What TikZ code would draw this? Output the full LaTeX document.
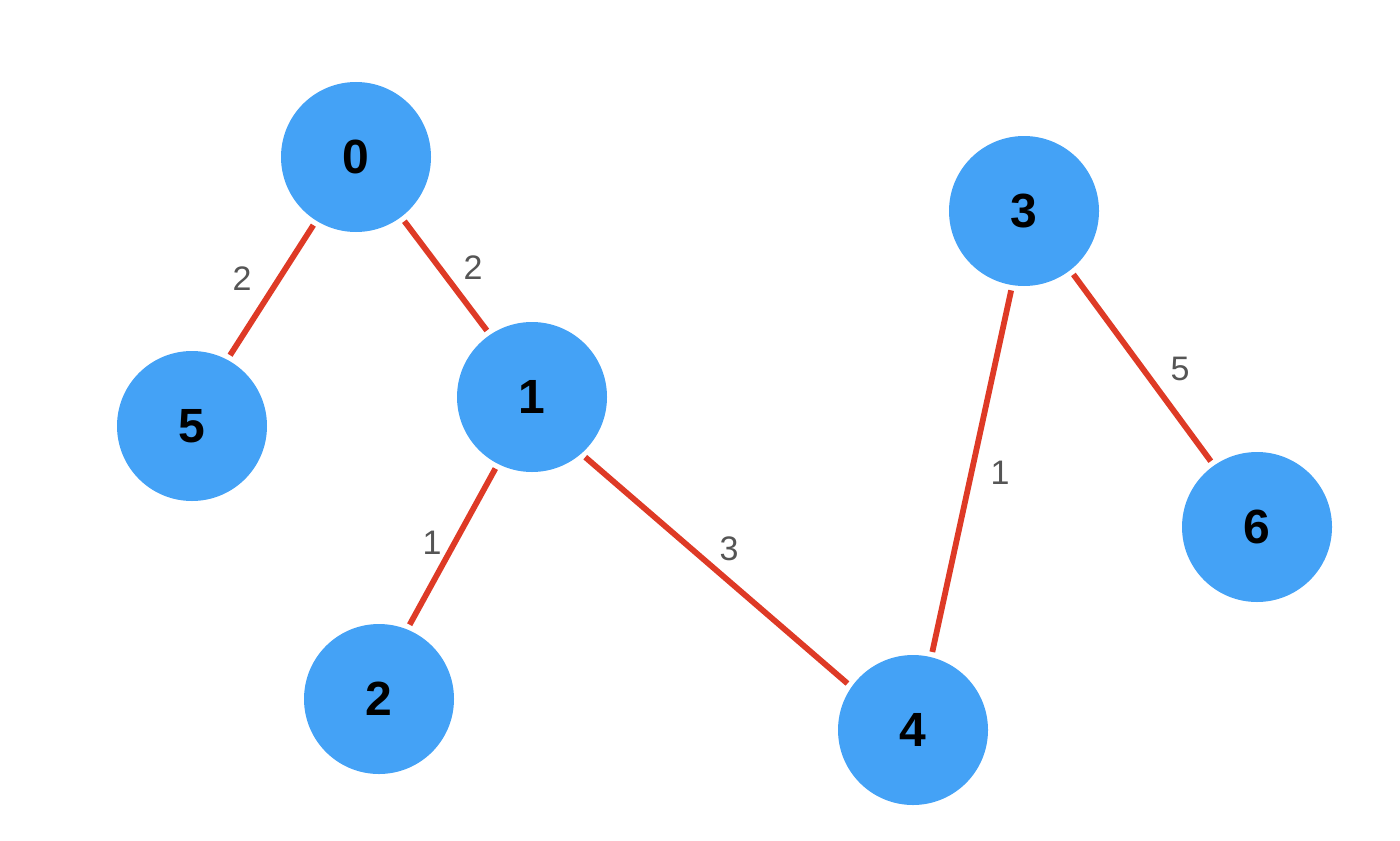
\documentclass[tikz,border=0pt]{standalone}
\usepackage{fontspec}
\setmainfont{Liberation Sans}
\definecolor{nodeblue}{HTML}{44A2F6}
\definecolor{edgered}{HTML}{DE3A26}
\definecolor{labelgray}{HTML}{555555}
\begin{document}
\begin{tikzpicture}[x=0.5pt,y=-0.5pt,
  vert/.style={circle,fill=nodeblue,minimum size=75pt,inner sep=0pt,font=\bfseries\fontsize{24}{24}\selectfont,text=black},
  edge/.style={draw=edgered,line width=2.9pt,shorten <=2.5pt,shorten >=2.5pt},
  wlabel/.style={font=\fontsize{17}{17}\selectfont,text=labelgray,inner sep=0pt}]
\useasboundingbox (0,0) rectangle (1400,840);
\node[vert] (n0) at (356,157) {0};
\node[vert] (n5) at (192,426) {5};
\node[vert] (n1) at (532,397) {1};
\node[vert] (n3) at (1024,211) {3};
\node[vert] (n2) at (379,699) {2};
\node[vert] (n4) at (913,730) {4};
\node[vert] (n6) at (1257,527) {6};
\draw[edge] (n0.238.8) -- (n5.62.1);
\draw[edge] (n0.307.4) -- (n1.124.9);
\draw[edge] (n1.243.1) -- (n2.68.1);
\draw[edge] (n1.311.5) -- (n4.145.1);
\draw[edge] (n3.261) -- (n4.76.5);
\draw[edge] (n3.308.6) -- (n6.125.1);
\node[wlabel] (l05) at (242,279) {2};
\node[wlabel] (l01) at (473,268) {2};
\node[wlabel] (l12) at (432,543) {1};
\node[wlabel] (l14) at (729,549) {3};
\node[wlabel] (l34) at (1000,473) {1};
\node[wlabel] (l36) at (1180,369) {5};
\end{tikzpicture}
\end{document}
